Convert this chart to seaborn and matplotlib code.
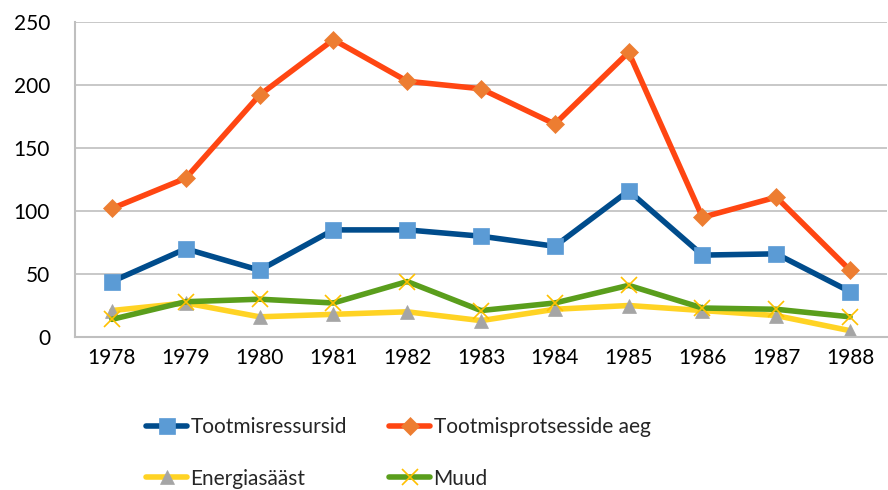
import matplotlib
matplotlib.use("Agg")
import matplotlib.pyplot as plt
import seaborn as sns

# Andmed
aastad = [1978, 1979, 1980, 1981, 1982, 1983, 1984, 1985, 1986, 1987, 1988]
tootmisressursid = [44, 70, 53, 85, 85, 80, 72, 116, 65, 66, 36]
protsesside_aeg = [102, 126, 192, 236, 203, 197, 169, 226, 95, 111, 53]
energiasaast = [21, 27, 16, 18, 20, 13, 22, 25, 21, 17, 5]
muud = [14, 28, 30, 27, 44, 21, 27, 41, 23, 22, 16]

sns.set_theme(style="white")
plt.rcParams["font.family"] = ["Lato", "DejaVu Sans"]

fig = plt.figure(figsize=(8.88, 4.9), dpi=100)
ax = fig.add_axes([75 / 888, 1 - 337 / 490, 812 / 888, 315 / 490])

seeria = [
    ("Tootmisressursid", tootmisressursid, "#004C8C", "s", "#5B9BD5", "#5B9BD5", 11),
    ("Tootmisprotsesside aeg", protsesside_aeg, "#FF4612", "D", "#ED7D31", "#ED7D31", 9),
    ("Energiasääst", energiasaast, "#FFD324", "^", "#A5A5A5", "#A5A5A5", 10),
    ("Muud", muud, "#5A9E1C", "x", "#FFC000", "#FFC000", 11),
]

for nimi, vals, lc, m, mfc, mec, ms in seeria:
    sns.lineplot(x=aastad, y=vals, ax=ax, color=lc, linewidth=4, marker=m,
                 markersize=ms, markerfacecolor=mfc, markeredgecolor=mec,
                 markeredgewidth=1.2 if m == "x" else 0.5, label=nimi)

ax.set_xlim(1977.5, 1988.5)
ax.set_ylim(0, 250)
ax.set_yticks([0, 50, 100, 150, 200, 250])
ax.set_xticks(aastad)
ax.grid(axis="y", color="#BFBFBF", linewidth=1.2)
ax.set_axisbelow(True)
for s in ["top", "right"]:
    ax.spines[s].set_visible(False)
for s in ["left", "bottom"]:
    ax.spines[s].set_color("#BFBFBF")
    ax.spines[s].set_linewidth(1.5)
ax.tick_params(axis="both", labelsize=15, colors="#000000", length=0)
ax.tick_params(axis="y", pad=18)
ax.tick_params(axis="x", pad=8)
ax.set_xlabel("")
ax.set_ylabel("")

handles, labels = ax.get_legend_handles_labels()
ax.legend_.remove()
jrk = [0, 2, 1, 3]
fig.legend([handles[i] for i in jrk], [labels[i] for i in jrk], ncol=2,
           loc="center left", bbox_to_anchor=(127 / 888, 1 - 453 / 490),
           frameon=False, fontsize=15, handlelength=2.0, columnspacing=2.0,
           labelspacing=1.5, handletextpad=0.15)

plt.savefig("out.png", dpi=100)
